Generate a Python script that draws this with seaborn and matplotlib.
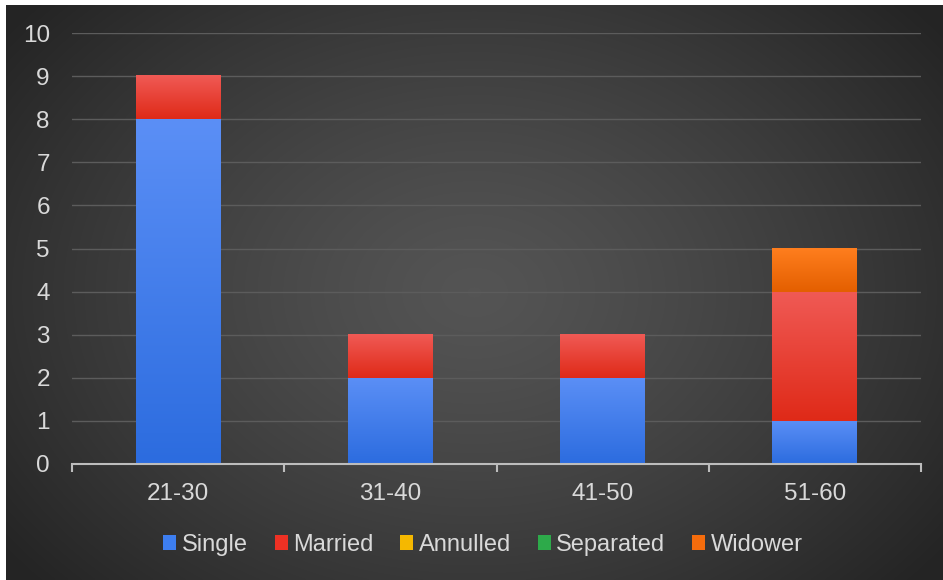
import numpy as np
import pandas as pd
import matplotlib
matplotlib.use("Agg")
import matplotlib.pyplot as plt
import seaborn as sns
from matplotlib.colors import LinearSegmentedColormap
from matplotlib.patches import Rectangle

# Age groups and counts per civil status
age_groups = ["21-30", "31-40", "41-50", "51-60"]
statuses = ["Single", "Married", "Annulled", "Separated", "Widower"]
single = [8, 2, 2, 1]
married = [1, 1, 1, 3]
annulled = [0, 0, 0, 0]
separated = [0, 0, 0, 0]
widower = [0, 0, 0, 1]
y_ticks = list(range(0, 11))

series = [single, married, annulled, separated, widower]
# (legend colour, gradient top, gradient bottom)
palette = {
    "Single": ("#3D7EF0", "#5B8FF6", "#2C6CDF"),
    "Married": ("#EE3124", "#F05A55", "#DF2A18"),
    "Annulled": ("#F5B800", "#FFCB2E", "#E8A800"),
    "Separated": ("#2DAA4A", "#45C062", "#229A3E"),
    "Widower": ("#F56C0C", "#FF7E1E", "#E45F00"),
}

plt.rcParams["font.family"] = ["Liberation Sans", "DejaVu Sans"]
fig = plt.figure(figsize=(9.43, 5.80), dpi=100)
fig.patch.set_facecolor("white")

# Dark radial-gradient panel behind the chart
W, H = 943, 580
left_px, top_px = 6, 5
bg_ax = fig.add_axes([left_px / W, 0, (W - left_px) / W, (H - top_px) / H])
bg_ax.set_axis_off()
yy, xx = np.mgrid[0:1:300j, 0:1:480j]
r = np.sqrt(((xx - 0.5) / 0.62) ** 2 + ((yy - 0.5) / 0.75) ** 2)
r = np.clip(r, 0, 1)
shade = 0.33 - 0.185 * r ** 1.3
bg_ax.imshow(np.dstack([shade, shade, shade]), aspect="auto",
             extent=[0, 1, 0, 1], interpolation="bicubic")
bg_ax.set_xlim(0, 1)
bg_ax.set_ylim(0, 1)

# Plot axes
ax_l, ax_r, ax_t, ax_b = 72, 921, 33, 464
ax = fig.add_axes([ax_l / W, 1 - ax_b / H, (ax_r - ax_l) / W, (ax_b - ax_t) / H])
ax.set_facecolor("none")

cum = np.cumsum(np.array(series, dtype=float), axis=0)
rows = []
for s, name in enumerate(statuses):
    for j, g in enumerate(age_groups):
        rows.append({"age": g, "status": name, "top": cum[s, j]})
df = pd.DataFrame(rows)

# Draw cumulative totals, tallest first, so each layer shows its own segment
bar_patches = {}
for s in range(len(statuses) - 1, -1, -1):
    name = statuses[s]
    sub = df[df["status"] == name]
    n_before = len(ax.patches)
    sns.barplot(data=sub, x="age", y="top", order=age_groups, color=palette[name][0],
                width=0.4, ax=ax, errorbar=None, linewidth=0, zorder=3)
    bar_patches[name] = ax.patches[n_before:]

# Replace flat fills with a vertical gradient over each visible segment
for s, name in enumerate(statuses):
    top_c, bot_c = palette[name][1], palette[name][2]
    cmap = LinearSegmentedColormap.from_list(name, [bot_c, top_c])
    grad = np.linspace(0, 1, 128).reshape(-1, 1)
    for j, p in enumerate(bar_patches[name]):
        p.set_visible(False)
        lo = cum[s - 1, j] if s > 0 else 0.0
        hi = p.get_height()
        if hi - lo <= 0:
            continue
        x0 = p.get_x()
        w = p.get_width()
        ax.imshow(grad, cmap=cmap, origin="lower", aspect="auto",
                  extent=[x0, x0 + w, lo, hi], zorder=3 + s * 0.01,
                  interpolation="bilinear")

ax.set_xlim(-0.5, len(age_groups) - 0.5)
ax.set_ylim(0, 10)
ax.set_yticks(y_ticks)
ax.set_yticklabels([str(t) for t in y_ticks])
ax.set_xlabel("")
ax.set_ylabel("")
ax.grid(axis="y", color="#5C5C5C", linewidth=1.0, zorder=0)
ax.grid(axis="x", visible=False)
ax.set_axisbelow(True)
for side in ["top", "right", "left"]:
    ax.spines[side].set_visible(False)
ax.spines["bottom"].set_color("#BDBDBD")
ax.spines["bottom"].set_linewidth(1.5)
ax.spines["bottom"].set_zorder(5)

fs = 17.5
ax.tick_params(axis="y", length=0, pad=16, labelsize=fs, labelcolor="#D9D9D9")
ax.tick_params(axis="x", which="major", length=0, pad=14, labelsize=fs,
               labelcolor="#D9D9D9")
# Category boundary ticks below the axis line
ax.set_xticks(np.arange(-0.5, len(age_groups), 1.0), minor=True)
ax.tick_params(axis="x", which="minor", length=6, width=1.5, color="#BDBDBD",
               direction="out")

handles = [Rectangle((0, 0), 1, 1, facecolor=palette[n][0], edgecolor="none")
           for n in statuses]
leg = fig.legend(handles, statuses, loc="center", bbox_to_anchor=(483 / W, 1 - 545 / H),
                 ncol=5, frameon=False, fontsize=17, handlelength=0.55,
                 handleheight=0.6, handletextpad=0.22, columnspacing=1.15)
for t in leg.get_texts():
    t.set_color("#D9D9D9")

fig.savefig("out.png", dpi=100, facecolor=fig.get_facecolor())
